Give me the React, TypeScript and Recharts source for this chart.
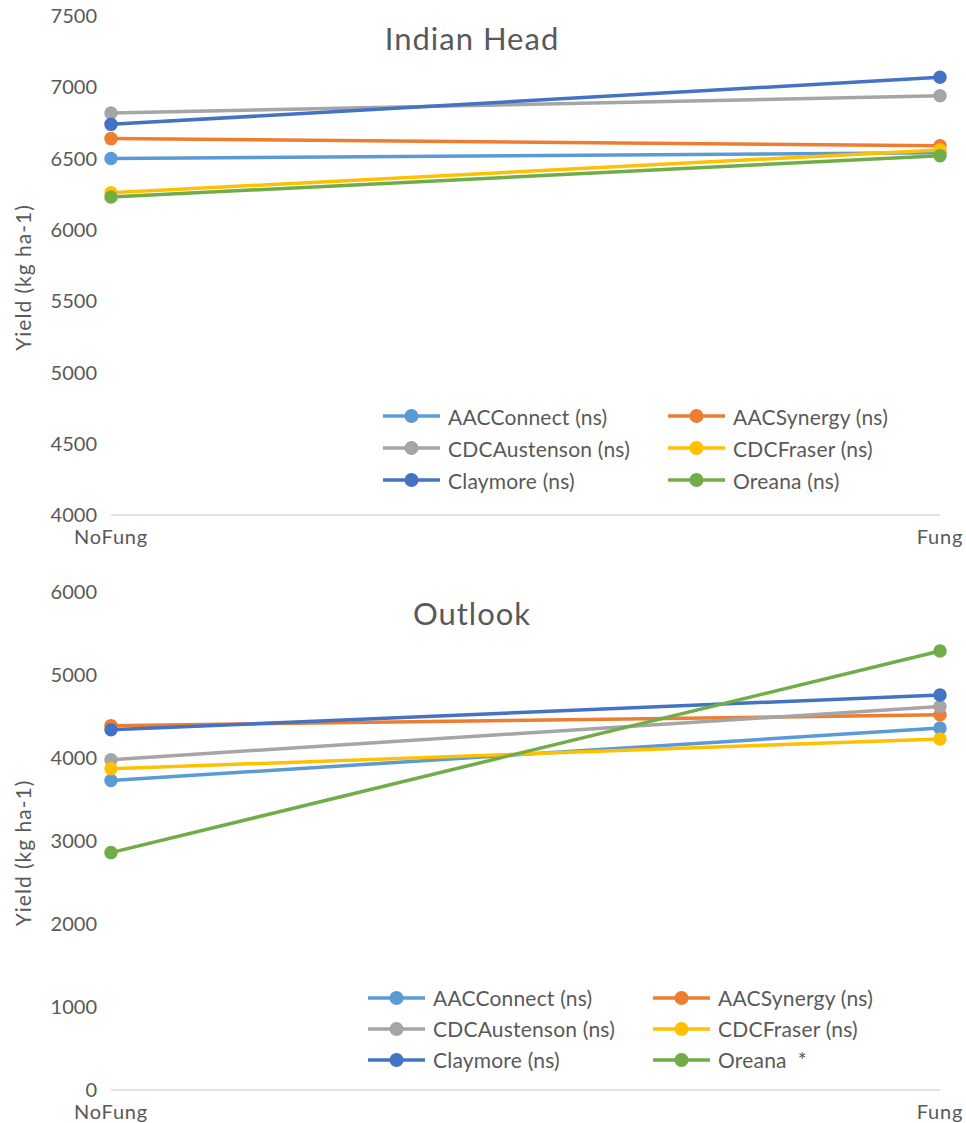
import { LineChart, Line, XAxis, YAxis, Legend } from "recharts";

const treatments = ["NoFung", "Fung"];
const varieties = ["AACConnect", "AACSynergy", "CDCAustenson", "CDCFraser", "Claymore", "Oreana"];
const colors = ["#5B9BD5", "#ED7D31", "#A5A5A5", "#FFC000", "#4472C4", "#70AD47"];

// Indian Head yields, one value per variety
const indianHeadNoFung = [6500, 6640, 6820, 6260, 6740, 6230];
const indianHeadFung = [6540, 6590, 6940, 6560, 7070, 6520];
const indianHeadLabels = [
  "AACConnect (ns)",
  "AACSynergy (ns)",
  "CDCAustenson (ns)",
  "CDCFraser (ns)",
  "Claymore (ns)",
  "Oreana (ns)",
];
const indianHeadTicks = [4000, 4500, 5000, 5500, 6000, 6500, 7000, 7500];

// Outlook yields
const outlookNoFung = [3730, 4390, 3980, 3870, 4340, 2860];
const outlookFung = [4360, 4520, 4620, 4230, 4760, 5290];
const outlookLabels = [
  "AACConnect (ns)",
  "AACSynergy (ns)",
  "CDCAustenson (ns)",
  "CDCFraser (ns)",
  "Claymore (ns)",
  "Oreana  *",
];
const outlookTicks = [0, 1000, 2000, 3000, 4000, 5000, 6000];

const FONT = "Lato, 'Open Sans', sans-serif";
const TEXT = "#595959";

function buildRows(noFung: number[], fung: number[]) {
  return treatments.map((t, i) => {
    const row: Record<string, string | number> = { name: t };
    varieties.forEach((v, j) => {
      row[v] = i === 0 ? noFung[j] : fung[j];
    });
    return row;
  });
}

function LegendGrid({ labels, rowH, gap }: { labels: string[]; rowH: number; gap: number }) {
  return (
    <div
      style={{
        display: "grid",
        gridTemplateColumns: "285px 285px",
        fontFamily: FONT,
        fontSize: 21,
        letterSpacing: 0.2,
        color: TEXT,
      }}
    >
      {labels.map((l, i) => (
        <div key={l} style={{ display: "flex", alignItems: "center", height: rowH }}>
          <svg width={57} height={18}>
            <line x1={0} y1={9} x2={57} y2={9} stroke={colors[i]} strokeWidth={3.5} />
            <circle cx={28.5} cy={9} r={7} fill={colors[i]} />
          </svg>
          <span style={{ marginLeft: gap, whiteSpace: "pre" }}>{l}</span>
        </div>
      ))}
    </div>
  );
}

type PanelProps = {
  title: string;
  titleY: number;
  rows: Record<string, string | number>[];
  labels: string[];
  ticks: number[];
  height: number;
  top: number;
  xHeight: number;
  legendLeft: number;
  legendTop: number;
  rowH: number;
  gap: number;
};

function Panel(p: PanelProps) {
  const plotMid = p.top + (p.height - p.top - p.xHeight) / 2;
  return (
    <div style={{ position: "relative", width: 966, height: p.height }}>
      <div
        style={{
          position: "absolute",
          left: 0,
          width: 944,
          top: p.titleY - 20,
          height: 40,
          lineHeight: "40px",
          textAlign: "center",
          fontFamily: FONT,
          fontSize: 31,
          letterSpacing: 1,
          color: TEXT,
        }}
      >
        {p.title}
      </div>
      <LineChart
        width={966}
        height={p.height}
        data={p.rows}
        margin={{ top: p.top, right: 26, left: 0, bottom: 0 }}
      >
        <XAxis
          dataKey="name"
          height={p.xHeight}
          axisLine={{ stroke: "#D9D9D9", strokeWidth: 1.5 }}
          tickLine={false}
          tickMargin={9}
          tick={{ fill: TEXT, fontSize: 20, fontFamily: FONT, letterSpacing: 0.8 }}
        />
        <YAxis
          width={111}
          domain={[p.ticks[0], p.ticks[p.ticks.length - 1]]}
          ticks={p.ticks}
          interval={0}
          axisLine={false}
          tickLine={false}
          tickMargin={8}
          tick={{ fill: TEXT, fontSize: 20, fontFamily: FONT }}
          label={{
            content: () => (
              <text
                x={22}
                y={plotMid + 12}
                transform={`rotate(-90 22 ${plotMid + 12})`}
                textAnchor="middle"
                dominantBaseline="central"
                fill={TEXT}
                fontSize={21}
                letterSpacing={1}
                fontFamily={FONT}
              >
                Yield (kg ha-1)
              </text>
            ),
          }}
        />
        <Legend
          layout="horizontal"
          verticalAlign="middle"
          align="center"
          wrapperStyle={{ left: p.legendLeft, top: p.legendTop, width: 600 }}
          content={() => <LegendGrid labels={p.labels} rowH={p.rowH} gap={p.gap} />}
        />
        {varieties.map((v, i) => (
          <Line
            key={v}
            type="linear"
            dataKey={v}
            stroke={colors[i]}
            strokeWidth={3.5}
            dot={{ r: 6, fill: colors[i], stroke: colors[i], strokeWidth: 1.5 }}
            isAnimationActive={false}
          />
        ))}
      </LineChart>
    </div>
  );
}

export default function App() {
  return (
    <div style={{ position: "absolute", left: 0, top: 0, width: 966, background: "#fff" }}>
      <Panel
        title="Indian Head"
        titleY={38}
        rows={buildRows(indianHeadNoFung, indianHeadFung)}
        labels={indianHeadLabels}
        ticks={indianHeadTicks}
        height={560}
        top={16}
        xHeight={45}
        legendLeft={383}
        legendTop={400}
        rowH={32}
        gap={8}
      />
      <Panel
        title="Outlook"
        titleY={53}
        rows={buildRows(outlookNoFung, outlookFung)}
        labels={outlookLabels}
        ticks={outlookTicks}
        height={563}
        top={32}
        xHeight={33}
        legendLeft={368}
        legendTop={422}
        rowH={31}
        gap={8}
      />
    </div>
  );
}
